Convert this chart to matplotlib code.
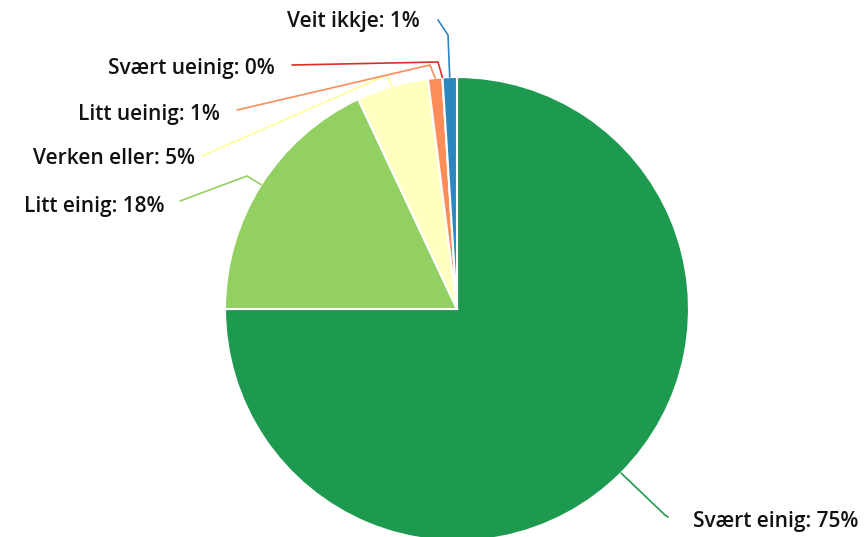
import numpy as np
import matplotlib.pyplot as plt

# svarfordeling (prosent)
kategorier = ['Svært einig', 'Litt einig', 'Verken eller', 'Litt ueinig', 'Svært ueinig', 'Veit ikkje']
prosent = [75, 18, 5, 1, 0, 1]
farger = ['#1e9a50', '#93d062', '#ffffc0', '#fc8d59', '#d73027', '#2c86c0']

# etikettplassering i piksel (x = høgre/venstre kant, y = grunnlinje frå toppen), og knekkpunkt for linja
etikett_pos = [(693, 527), (165, 212), (195, 164), (220, 120), (275, 74), (420, 27)]
etikett_ha = ['left', 'right', 'right', 'right', 'right', 'right']
knekk = [(665, 515), (247, 176), (387, 75), (430, 65), (438, 62), (448, 35)]
linje_slutt = [(668, 517), (180, 201), (202, 156), (237, 110), (292, 65), (438, 20)]

W, H = 867, 537
cx, cy, r = 457, 309, 232

fig = plt.figure(figsize=(W / 100, H / 100), dpi=100)
ax = fig.add_axes([0, 0, 1, 1])

wedges, _ = ax.pie(prosent, colors=farger, startangle=90, counterclock=False,
                   center=(cx, H - cy), radius=r,
                   wedgeprops=dict(edgecolor='white', linewidth=1.5))

for i, w in enumerate(wedges):
    mid = np.deg2rad((w.theta1 + w.theta2) / 2)
    sx = cx + r * np.cos(mid)
    sy = (H - cy) + r * np.sin(mid)
    kx, ky = knekk[i]
    ex, ey = linje_slutt[i]
    lc = farger[i] if i != 2 else '#ffff99'
    ax.plot([sx, kx, ex], [sy, H - ky, H - ey], color=lc, lw=1.2,
            solid_joinstyle='round', solid_capstyle='round')
    tx, ty = etikett_pos[i]
    ax.text(tx, H - ty, f'{kategorier[i]}: {prosent[i]:.0f}%', ha=etikett_ha[i], va='baseline',
            fontsize=15, fontweight='semibold', color='#111111', family='Open Sans')

ax.set_xlim(0, W)
ax.set_ylim(0, H)
ax.set_aspect('auto')
ax.axis('off')

plt.savefig('out.png', dpi=100, facecolor='white')
plt.close()
